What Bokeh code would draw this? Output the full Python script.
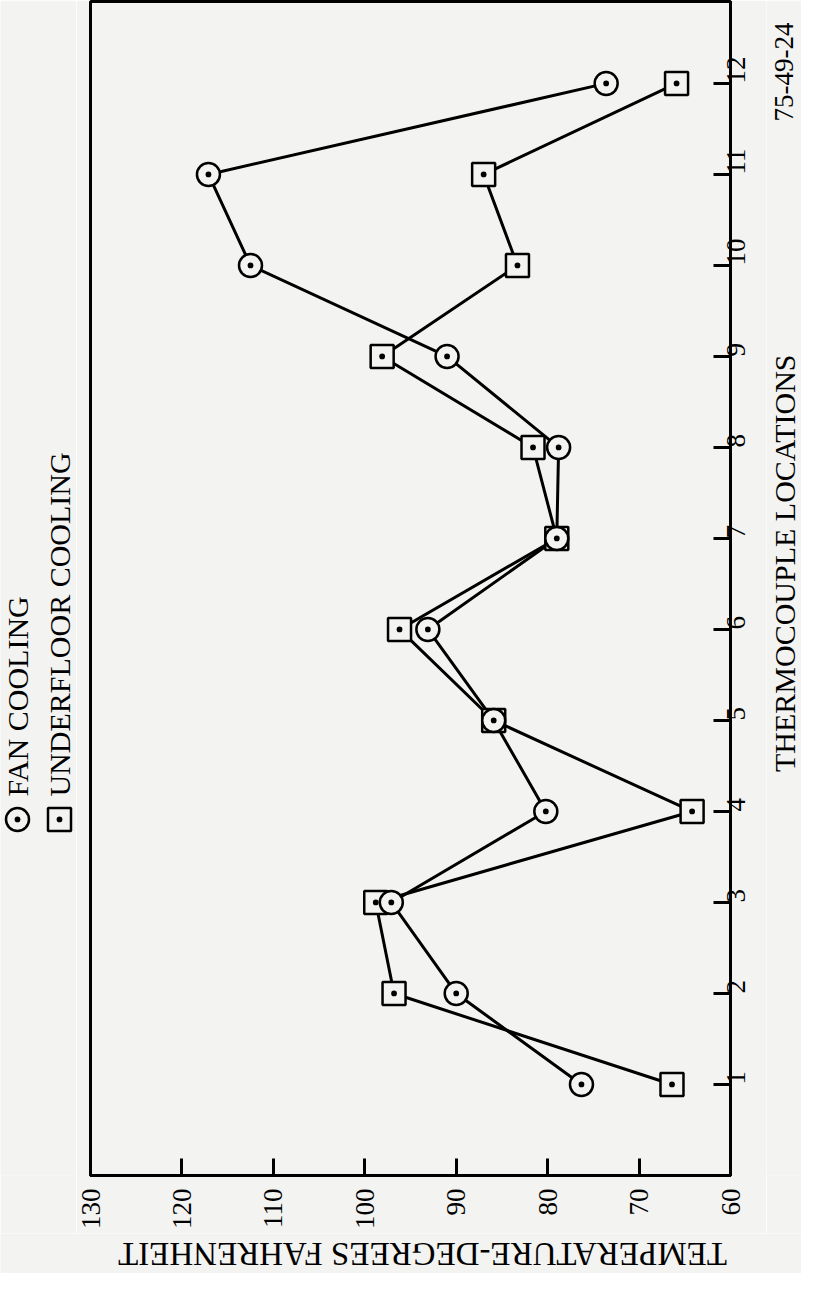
from math import pi
from bokeh.plotting import figure
from bokeh.models import Range1d, FixedTicker
from bokeh.layouts import row, column
from bokeh.embed import file_html
from bokeh.resources import INLINE
from bokeh.core.properties import value

# ---- data ----
locations = [1, 2, 3, 4, 5, 6, 7, 8, 9, 10, 11, 12]
fan_cooling = [76.3, 90.0, 97.1, 80.2, 85.9, 93.1, 79.0, 78.8, 91.0, 112.5, 117.1, 73.6]
underfloor_cooling = [66.4, 96.8, 98.8, 64.2, 85.9, 96.2, 79.0, 81.6, 98.1, 83.3, 87.0, 65.9]
temp_ticks = [130, 120, 110, 100, 90, 80, 70, 60]
series_names = ["FAN COOLING", "UNDERFLOOR COOLING"]
location_label = "THERMOCOUPLE LOCATIONS"
temp_label = "TEMPERATURE-DEGREES FAHRENHEIT"
figure_number = "75-49-24"

FONT = "Liberation Serif"
BG = "#f3f3f1"
HM = 1233          # height of the upper row
LW, MW, RW = 76, 690, 35
BH = 40


def blank(width, height):
    f = figure(width=width, height=height, output_backend="svg", toolbar_location=None,
               x_range=Range1d(0, width), y_range=Range1d(0, height), min_border=0,
               background_fill_color=BG, border_fill_color=BG)
    f.axis.visible = False
    f.grid.visible = False
    f.outline_line_color = None
    return f


# ---- main plot (the page is rotated 90 degrees counter-clockwise) ----
p = figure(width=MW, height=HM, output_backend="svg", toolbar_location=None,
           x_range=Range1d(130, 60), y_range=Range1d(0, 12.9),
           x_axis_location="below", y_axis_location="right",
           min_border_left=14, min_border_right=36, min_border_top=1,
           min_border_bottom=58, background_fill_color=BG, border_fill_color=BG)
p.grid.visible = False
p.outline_line_color = "black"
p.outline_line_width = 3

for ax, ticks, standoff in ((p.xaxis[0], temp_ticks, 13), (p.yaxis[0], locations, 6)):
    ax.ticker = FixedTicker(ticks=ticks)
    ax.major_label_orientation = pi / 2
    ax.major_tick_in = 17
    ax.major_tick_out = 0
    ax.minor_tick_in = 0
    ax.minor_tick_out = 0
    ax.major_tick_line_width = 3
    ax.axis_line_width = 3
    ax.major_label_standoff = standoff
    ax.major_label_text_font = FONT
    ax.major_label_text_font_size = "27px"
    ax.major_label_text_color = "black"

p.line(x=fan_cooling, y=locations, line_color="black", line_width=3)
p.line(x=underfloor_cooling, y=locations, line_color="black", line_width=3)
p.scatter(x=underfloor_cooling, y=locations, marker="square_dot", size=23,
          line_color="black", line_width=2.5, fill_color=BG)
p.scatter(x=fan_cooling, y=locations, marker="circle_dot", size=23,
          line_color="black", line_width=2.5, fill_color=BG)

# ---- legend column, left of the frame ----
leg = blank(LW, HM)
leg_x = [17, 59]
leg.scatter(x=[leg_x[0]], y=[374], marker="circle_dot", size=23,
            line_color="black", line_width=2.5, fill_color=BG)
leg.scatter(x=[leg_x[1]], y=[374], marker="square_dot", size=23,
            line_color="black", line_width=2.5, fill_color=BG)
leg.text(x=leg_x, y=[398, 398], text=series_names, angle=pi / 2,
         text_align="left", text_baseline="middle", text_font=value(FONT),
         text_font_size="30px", text_color="black")

# ---- right column: location axis title and figure number ----
rt = blank(RW, HM)
rt.text(x=[17.5], y=[643], text=[location_label], angle=pi / 2,
        text_align="center", text_baseline="middle", text_font=value(FONT),
        text_font_size="30px", text_color="black")
rt.text(x=[17.5], y=[1159], text=[figure_number], angle=pi / 2,
        text_align="center", text_baseline="middle", text_font=value(FONT),
        text_font_size="27px", text_color="black")

# ---- bottom strip: temperature axis title (upside down) ----
bt = blank(LW + MW + RW, BH)
bt.text(x=[422], y=[BH / 2], text=[temp_label], angle=pi,
        text_align="center", text_baseline="middle", text_font=value(FONT),
        text_font_size="33px", text_color="black")

layout = column(row(leg, p, rt, spacing=0), bt, spacing=0)
open("out.html", "w").write(file_html(layout, INLINE))
